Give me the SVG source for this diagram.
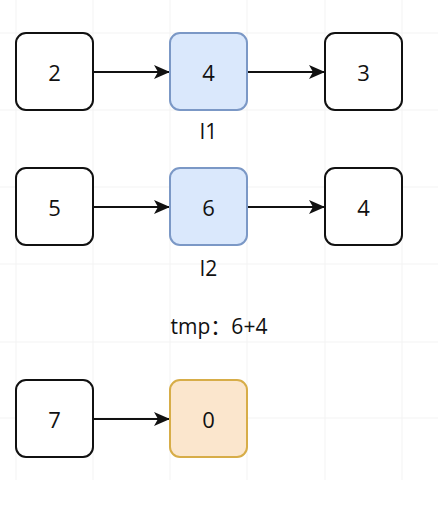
<svg xmlns="http://www.w3.org/2000/svg" width="438" height="508" viewBox="0 0 438 508">
<defs>
<style>
.grid{stroke:#f3f3f3;stroke-width:1;fill:none}
.box{fill:#ffffff;stroke:#111111;stroke-width:2}
.blue{fill:#dae8fc;stroke:#7b98c6;stroke-width:2}
.orange{fill:#fbe6cd;stroke:#d7ad48;stroke-width:2}
.num{font-family:"Open Sans","Noto Sans",sans-serif;font-size:22px;fill:#111;text-anchor:middle;dominant-baseline:central}
.lbl{font-family:"Open Sans","Noto Sans","Noto Sans CJK SC",sans-serif;font-size:21px;fill:#111;text-anchor:middle;dominant-baseline:central}
.edge{stroke:#111;stroke-width:2;fill:none;marker-end:url(#arr)}
</style>
<marker id="arr" markerWidth="16" markerHeight="14" refX="15" refY="7" orient="auto" markerUnits="userSpaceOnUse">
<path d="M0,0 L16,7 L0,14 L4,7 Z" fill="#111"/>
</marker>
</defs>
<rect width="438" height="508" fill="#ffffff"/>
<g id="grid">
<path class="grid" d="M16,0V480M93,0V480M170,0V480M247,0V480M325,0V480M402,0V480M0,33H438M0,110H438M0,187H438M0,264H438M0,342H438M0,418H438"/>
</g>
<g id="connectors">
<path class="edge" d="M93,72 H169"/>
<path class="edge" d="M247,72 H324"/>
<path class="edge" d="M93,207 H169"/>
<path class="edge" d="M247,207 H324"/>
<path class="edge" d="M93,419 H169"/>
</g>
<g id="n2"><rect class="box" x="16" y="33" width="77" height="77" rx="10"/><text class="num" x="54.5" y="72">2</text></g>
<g id="n4a"><rect class="blue" x="170" y="33" width="77" height="77" rx="10"/><text class="num" x="208.5" y="72">4</text></g>
<g id="n3"><rect class="box" x="325" y="33" width="77" height="77" rx="10"/><text class="num" x="363.5" y="72">3</text></g>
<g id="l1"><text class="lbl" x="208.5" y="131">l1</text></g>
<g id="n5"><rect class="box" x="16" y="168" width="77" height="77" rx="10"/><text class="num" x="54.5" y="207">5</text></g>
<g id="n6"><rect class="blue" x="170" y="168" width="77" height="77" rx="10"/><text class="num" x="208.5" y="207">6</text></g>
<g id="n4b"><rect class="box" x="325" y="168" width="77" height="77" rx="10"/><text class="num" x="363.5" y="207">4</text></g>
<g id="l2"><text class="lbl" x="208.5" y="268">l2</text></g>
<g id="tmp"><text class="lbl" x="219" y="326">tmp：6+4</text></g>
<g id="n7"><rect class="box" x="16" y="380" width="77" height="77" rx="10"/><text class="num" x="54.5" y="419">7</text></g>
<g id="n0"><rect class="orange" x="170" y="380" width="77" height="77" rx="10"/><text class="num" x="208.5" y="419">0</text></g>
</svg>
